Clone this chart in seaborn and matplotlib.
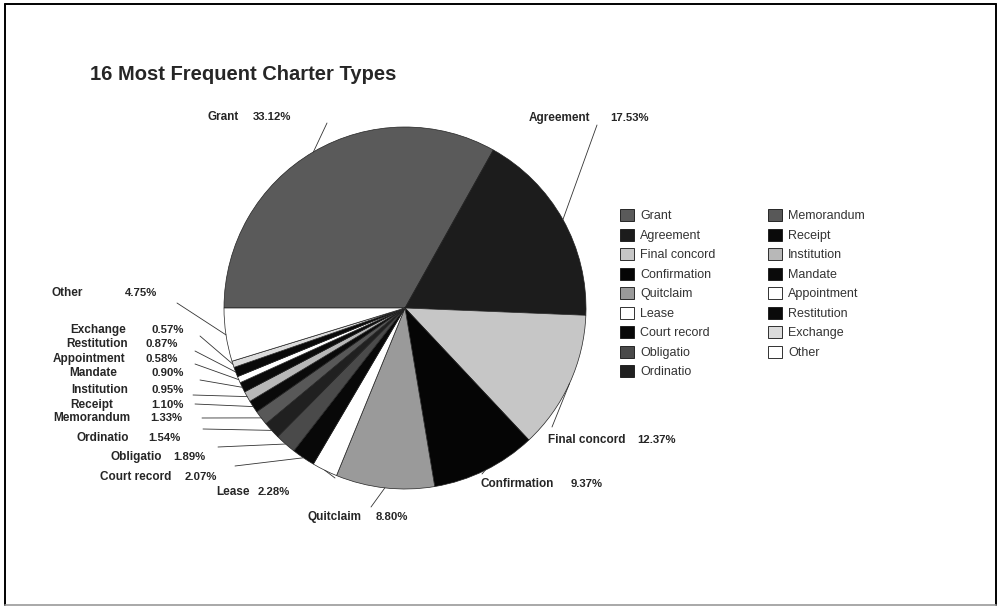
import numpy as np
import matplotlib
matplotlib.use('Agg')
import matplotlib.pyplot as plt
import seaborn as sns

# Set style
sns.set_style('white')
plt.rcParams['font.family'] = ['Liberation Sans', 'DejaVu Sans']

# Data
types = ['Grant', 'Agreement', 'Final concord', 'Confirmation', 'Quitclaim', 'Lease',
         'Court record', 'Obligatio', 'Ordinatio', 'Memorandum', 'Receipt', 'Institution',
         'Mandate', 'Appointment', 'Restitution', 'Exchange', 'Other']
shares = [33.12, 17.53, 12.37, 9.37, 8.80, 2.28, 2.07, 1.89, 1.54, 1.33, 1.10, 0.95,
          0.90, 0.58, 0.87, 0.57, 4.75]
pct_labels = ['33.12%', '17.53%', '12.37%', '9.37%', '8.80%', '2.28%', '2.07%', '1.89%',
              '1.54%', '1.33%', '1.10%', '0.95%', '0.90%', '0.58%', '0.87%', '0.57%', '4.75%']

# grey halftone look of the original
greys = ['#5a5a5a', '#1c1c1c', '#c6c6c6', '#050505', '#9a9a9a', '#ffffff', '#080808',
         '#4a4a4a', '#202020', '#585858', '#0a0a0a', '#b8b8b8', '#0a0a0a', '#ffffff',
         '#0a0a0a', '#dcdcdc', '#ffffff']

# label layout in pixels: name right edge, percent left edge, text y, leader start x, y
label_pos = [
    (239, 253, 117, 327, 123),
    (590, 610, 118, 597, 125),
    (626, 637, 440, 552, 427),
    (554, 571, 484, 482, 474),
    (362, 376, 517, 371, 507),
    (250, 258, 492, 335, 478),
    (171, 185, 477, 235, 466),
    (162, 173, 457, 218, 447),
    (129, 148, 438, 203, 429),
    (130, 150, 418, 202, 418),
    (113, 151, 405, 195, 404),
    (128, 151, 390, 193, 395),
    (117, 151, 373, 200, 380),
    (125, 146, 359, 195, 364),
    (128, 146, 344, 195, 351),
    (126, 151, 330, 200, 336),
    (83, 125, 293, 177, 303),
]

W, H = 998, 607
fig = plt.figure(figsize=(W / 100, H / 100), dpi=100)

def fx(px):
    return px / W

def fy(py):
    return 1 - py / H

# pie axes: centre (405, 308) px, radius 181 px
cx, cy, r = 405, 308, 181
lim = 1.02
half = r * lim
ax = fig.add_axes([fx(cx - half), fy(cy + half), 2 * half / W, 2 * half / H])

wedges, _ = ax.pie(shares, colors=greys, startangle=180, counterclock=False,
                   wedgeprops=dict(edgecolor='#222222', linewidth=0.5))
ax.set_xlim(-lim, lim)
ax.set_ylim(-lim, lim)
ax.set_aspect('equal')
ax.axis('off')

# labels with leader lines to the wedge edge
for w, name, pct, pos in zip(wedges, types, pct_labels, label_pos):
    nx, pxp, ty, lx, ly = pos
    fig.text(fx(nx), fy(ty), name, ha='right', va='center', fontsize=8.5, fontweight='bold')
    fig.text(fx(pxp), fy(ty), pct, ha='left', va='center', fontsize=8.2, fontweight='bold')
    mid = np.deg2rad((w.theta1 + w.theta2) / 2)
    ax.annotate('', xy=(np.cos(mid), np.sin(mid)), xycoords='data',
                xytext=(fx(lx), fy(ly)), textcoords='figure fraction',
                arrowprops=dict(arrowstyle='-', color='#333333', lw=0.6,
                                shrinkA=0, shrinkB=0))

# Title
fig.text(fx(90), fy(75), '16 Most Frequent Charter Types', ha='left', va='center',
         fontsize=14.5, fontweight='bold')

# Legend in two columns
handles = [plt.Rectangle((0, 0), 1, 1, facecolor=c, edgecolor='#111111', linewidth=0.6)
           for c in greys]
leg_kw = dict(frameon=False, loc='upper left', fontsize=9, borderpad=0, borderaxespad=0,
              handlelength=1.1, handleheight=1.1, handletextpad=0.5, labelspacing=0.5,
              labelcolor='#333333')
fig.legend(handles[:9], types[:9], bbox_to_anchor=(fx(620), fy(209)), **leg_kw)
fig.legend(handles[9:], types[9:], bbox_to_anchor=(fx(768), fy(209)), **leg_kw)

# outer frame
fig.add_artist(plt.Line2D([fx(5), fx(5)], [fy(4), fy(605)], color='black', lw=1.4))
fig.add_artist(plt.Line2D([fx(5), fx(996)], [fy(4), fy(4)], color='black', lw=1.4))
fig.add_artist(plt.Line2D([fx(996), fx(996)], [fy(4), fy(605)], color='black', lw=1.4))
fig.add_artist(plt.Line2D([fx(5), fx(996)], [fy(605), fy(605)], color='#999999', lw=1.2))

plt.savefig('out.png', dpi=100)
